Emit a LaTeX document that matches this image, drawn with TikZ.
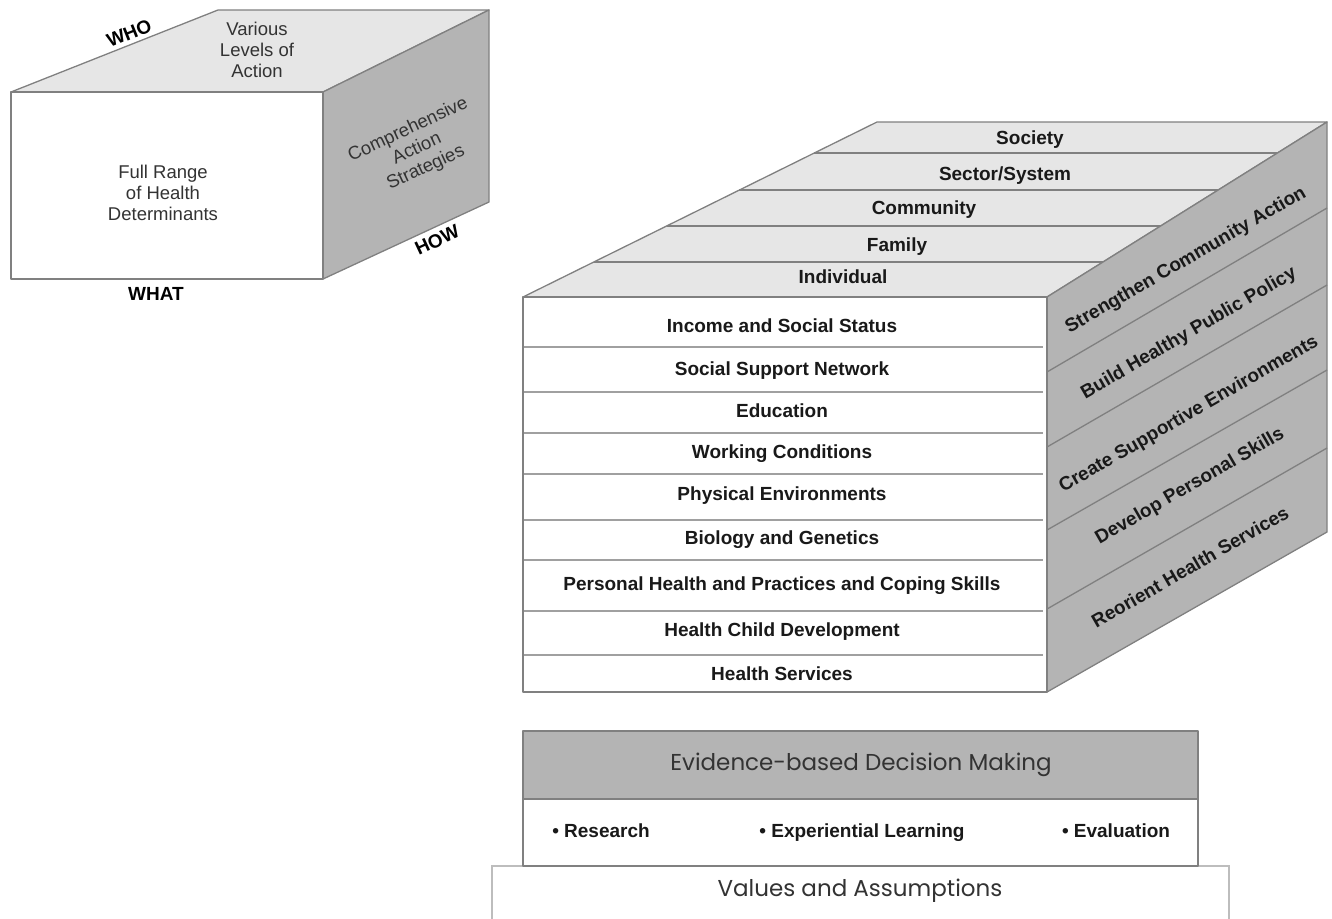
\documentclass[tikz,border=0pt]{standalone}
\usepackage{fontspec}
\setmainfont{Liberation Sans}
\newfontfamily\geofont{Poppins}
\definecolor{topgray}{HTML}{E6E6E6}
\definecolor{sidegray}{HTML}{B4B4B4}
\definecolor{edgegray}{HTML}{808080}
\definecolor{rowgray}{HTML}{A0A0A0}
\tikzset{
  face/.style={draw=edgegray, line width=1.3pt, line join=round},
  rowline/.style={draw=rowgray, line width=1.6pt},
  lbl/.style={font=\fontsize{19}{22}\selectfont\bfseries, text=black!90, inner sep=0pt,
    text height=13.5pt, text depth=0pt},
  plain/.style={font=\fontsize{18.5}{21}\selectfont, align=center, text=black!80, inner sep=0pt},
  axis/.style={font=\fontsize{19}{22}\selectfont\bfseries, text=black, inner sep=0pt,
    text height=13.5pt, text depth=0pt},
  geo/.style={font=\geofont\fontsize{23}{26}\selectfont, text=black!80, inner sep=0pt}
}
\begin{document}
\begin{tikzpicture}[x=1pt, y=-1pt]
    \useasboundingbox (0,0) rectangle (1332,918);

    % small cube
    \draw[face, fill=topgray] (11,92) -- (218,10) -- (489,10) -- (323,92) -- cycle;
    \draw[face, fill=sidegray] (323,92) -- (489,10) -- (489,202) -- (323,279) -- cycle;
    \draw[face, fill=white] (11,92) rectangle (323,279);

    \node (who) [axis, rotate=22] at (129,33) {WHO};
    \node (levels) [plain] at (257,50) {Various\\Levels of\\Action};
    \node (range) [plain] at (163,193) {Full Range\\of Health\\Determinants};
    \node (strat) [plain, rotate=25] at (417,149) {Comprehensive\\Action\\Strategies};
    \node (how) [axis, rotate=25] at (437,240) {HOW};
    \node (what) [axis] at (156,294) {WHAT};

    % big cube, top face with the levels
    \draw[face, fill=topgray] (523,297) -- (877,122) -- (1327,122) -- (1047,297) -- cycle;
    \draw[face] (814,153) -- (1277,153);
    \draw[face] (739,190) -- (1218,190);
    \draw[face] (667,226) -- (1161,226);
    \draw[face] (594,262) -- (1103,262);

    \node (lv5) [lbl] at (1030,138) {Society};
    \node (lv4) [lbl] at (1005,174) {Sector/System};
    \node (lv3) [lbl] at (924,208) {Community};
    \node (lv2) [lbl] at (897,245) {Family};
    \node (lv1) [lbl] at (843,277) {Individual};

    % side face with the strategies
    \draw[face, fill=sidegray] (1047,297) -- (1327,122) -- (1327,532) -- (1047,692) -- cycle;
    \draw[face] (1047,372) -- (1327,208);
    \draw[face] (1047,447) -- (1327,285);
    \draw[face] (1047,530) -- (1327,370);
    \draw[face] (1047,609) -- (1327,448);

    \node (act1) [lbl, rotate=30] at (1185,259) {Strengthen Community Action};
    \node (act2) [lbl, rotate=30] at (1188,332) {Build Healthy Public Policy};
    \node (act3) [lbl, rotate=30] at (1188,413) {Create Supportive Environments};
    \node (act4) [lbl, rotate=30] at (1189,485) {Develop Personal Skills};
    \node (act5) [lbl, rotate=30] at (1190,567) {Reorient Health Services};

    % front face with the determinants
    \draw[face, fill=white] (523,297) rectangle (1047,692);
    \foreach \y in {347,392,433,474,520,560,611,655}
        \draw[rowline] (524,\y) -- (1043,\y);

    \foreach \t/\y [count=\i] in {Income and Social Status/326, Social Support Network/369,
        Education/411, Working Conditions/452, Physical Environments/494,
        Biology and Genetics/538, Personal Health and Practices and Coping Skills/584,
        Health Child Development/630, Health Services/674}
        \node (det\i) [lbl] at (782,\y) {\t};

    % base
    \draw[draw=rowgray!70, line width=1.3pt, fill=white] (492,920) -- (492,866) -- (1229,866) -- (1229,920);
    \draw[face, fill=sidegray] (523,731) rectangle (1198,799);
    \draw[face, fill=white] (523,799) rectangle (1198,866);

    \node (ebdm) [geo] at (861,765) {Evidence-based Decision Making};
    \node (res) [lbl] at (601,831) {\textbullet\ Research};
    \node (exp) [lbl] at (862,831) {\textbullet\ Experiential Learning};
    \node (eva) [lbl] at (1116,831) {\textbullet\ Evaluation};
    \node (values) [geo] at (860,891) {Values and Assumptions};
\end{tikzpicture}
\end{document}
